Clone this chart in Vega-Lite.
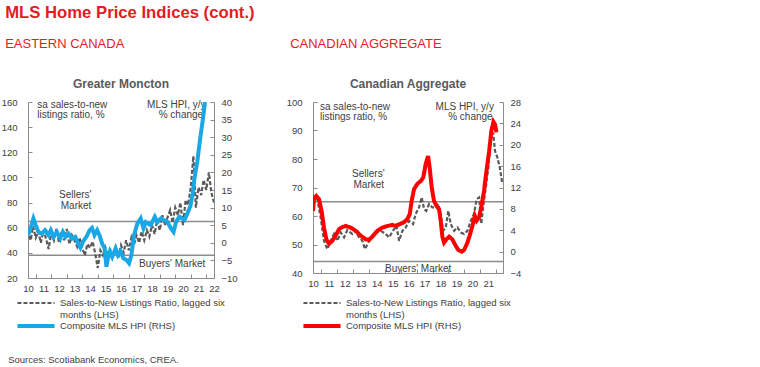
{
"$schema": "https://vega.github.io/schema/vega-lite/v6.json",
"background": "white",
"padding": {"left": 1, "top": 5, "right": 5, "bottom": 4},
"title": {"text": "MLS Home Price Indices (cont.)", "anchor": "start", "fontSize": 16.7, "font": "Liberation Sans", "fontWeight": "bold", "color": "#E31B23", "offset": 16, "dx": 4},
"config": {
  "font": "Liberation Sans",
  "view": {"stroke": null},
  "axis": {"labelFont": "Liberation Sans", "labelFontSize": 9.5, "labelColor": "#404040", "domainColor": "#8c8c8c", "tickColor": "#8c8c8c", "grid": false, "domainWidth": 1, "tickWidth": 1, "labelOverlap": false},
  "legend": {"labelFont": "Liberation Sans"},
  "text": {"fontSize": 10, "color": "#404040", "baseline": "middle", "font": "Liberation Sans"}
},
"datasets": {
  "md": [
    {"t":2010.0,"v":58},{"t":2010.17,"v":50},{"t":2010.33,"v":61},{"t":2010.5,"v":52},{"t":2010.67,"v":57},{"t":2010.83,"v":48},
    {"t":2011.0,"v":58},{"t":2011.17,"v":51},{"t":2011.33,"v":43},{"t":2011.5,"v":56},{"t":2011.67,"v":50},{"t":2011.83,"v":59},
    {"t":2012.0,"v":48},{"t":2012.17,"v":57},{"t":2012.33,"v":50},{"t":2012.5,"v":59},{"t":2012.67,"v":47},{"t":2012.83,"v":54},
    {"t":2013.0,"v":50},{"t":2013.17,"v":45},{"t":2013.33,"v":52},{"t":2013.5,"v":44},{"t":2013.67,"v":38},{"t":2013.83,"v":47},
    {"t":2014.0,"v":44},{"t":2014.17,"v":49},{"t":2014.33,"v":40},{"t":2014.5,"v":28},{"t":2014.67,"v":42},{"t":2014.83,"v":38},
    {"t":2015.0,"v":44},{"t":2015.17,"v":36},{"t":2015.33,"v":42},{"t":2015.5,"v":37},{"t":2015.67,"v":44},{"t":2015.83,"v":36},
    {"t":2016.0,"v":46},{"t":2016.17,"v":40},{"t":2016.33,"v":50},{"t":2016.5,"v":42},{"t":2016.67,"v":52},{"t":2016.83,"v":46},
    {"t":2017.0,"v":54},{"t":2017.17,"v":48},{"t":2017.33,"v":57},{"t":2017.5,"v":50},{"t":2017.67,"v":58},{"t":2017.83,"v":53},
    {"t":2018.0,"v":62},{"t":2018.17,"v":55},{"t":2018.33,"v":66},{"t":2018.5,"v":58},{"t":2018.67,"v":70},{"t":2018.83,"v":62},
    {"t":2019.0,"v":68},{"t":2019.17,"v":74},{"t":2019.33,"v":64},{"t":2019.5,"v":76},{"t":2019.67,"v":70},{"t":2019.83,"v":80},
    {"t":2020.0,"v":62},{"t":2020.17,"v":82},{"t":2020.33,"v":78},{"t":2020.5,"v":92},{"t":2020.67,"v":117},{"t":2020.83,"v":76},
    {"t":2021.0,"v":92},{"t":2021.17,"v":86},{"t":2021.33,"v":98},{"t":2021.5,"v":90},{"t":2021.67,"v":104},{"t":2021.83,"v":88},
    {"t":2022.0,"v":80}
  ],
  "mb": [
    {"t":2010.0,"r":2.2},{"t":2010.19,"r":4.5},{"t":2010.35,"r":6.9},{"t":2010.5,"r":5.0},{"t":2010.67,"r":3.1},{"t":2010.89,"r":2.6},
    {"t":2011.1,"r":3.6},{"t":2011.32,"r":2.2},{"t":2011.47,"r":3.6},{"t":2011.65,"r":1.7},{"t":2011.86,"r":3.1},
    {"t":2012.08,"r":1.2},{"t":2012.25,"r":3.1},{"t":2012.42,"r":1.7},{"t":2012.62,"r":2.6},{"t":2012.84,"r":1.2},
    {"t":2013.05,"r":1.7},{"t":2013.23,"r":-0.2},{"t":2013.38,"r":-1.4},{"t":2013.55,"r":0.3},{"t":2013.77,"r":1.7},{"t":2013.98,"r":3.6},
    {"t":2014.13,"r":4.2},{"t":2014.29,"r":2.2},{"t":2014.46,"r":3.6},{"t":2014.61,"r":2.2},{"t":2014.78,"r":-0.2},{"t":2014.94,"r":-1.6},
    {"t":2015.06,"r":-6.8},{"t":2015.15,"r":-4.4},{"t":2015.28,"r":-2.5},{"t":2015.43,"r":-4.0},{"t":2015.65,"r":-1.6},{"t":2015.8,"r":-3.5},{"t":2015.97,"r":-2.4},
    {"t":2016.15,"r":-4.4},{"t":2016.36,"r":-4.9},{"t":2016.52,"r":-5.8},{"t":2016.67,"r":-3.5},{"t":2016.84,"r":2.2},
    {"t":2017.06,"r":5.5},{"t":2017.27,"r":6.9},{"t":2017.45,"r":4.1},{"t":2017.6,"r":5.9},{"t":2017.92,"r":5.0},
    {"t":2018.18,"r":7.4},{"t":2018.35,"r":5.9},{"t":2018.57,"r":6.9},{"t":2018.79,"r":6.4},
    {"t":2019.0,"r":5.9},{"t":2019.22,"r":4.1},{"t":2019.39,"r":3.1},{"t":2019.55,"r":5.9},{"t":2019.76,"r":7.4},{"t":2019.94,"r":6.9},
    {"t":2020.1,"r":6.5},{"t":2020.3,"r":8.5},{"t":2020.48,"r":10.5},{"t":2020.62,"r":14},{"t":2020.73,"r":18},{"t":2020.92,"r":23},
    {"t":2021.12,"r":30},{"t":2021.28,"r":35},{"t":2021.42,"r":40}
  ],
  "cd": [
    {"t":2010.0,"v":61.8},{"t":2010.06,"v":67},{"t":2010.27,"v":66},{"t":2010.48,"v":59.5},{"t":2010.69,"v":51.3},{"t":2010.9,"v":48.4},
    {"t":2011.11,"v":51.3},{"t":2011.32,"v":53.7},{"t":2011.53,"v":51.3},{"t":2011.74,"v":54.2},{"t":2011.95,"v":52.5},
    {"t":2012.15,"v":55},{"t":2012.47,"v":53.7},{"t":2012.68,"v":54.8},{"t":2012.89,"v":52.5},
    {"t":2013.1,"v":51.3},{"t":2013.26,"v":48.4},{"t":2013.47,"v":50.7},{"t":2013.72,"v":52.5},{"t":2013.97,"v":54.2},
    {"t":2014.25,"v":54.8},{"t":2014.56,"v":53.7},{"t":2014.77,"v":52.5},
    {"t":2015.02,"v":54.8},{"t":2015.23,"v":56.6},{"t":2015.4,"v":51.3},{"t":2015.61,"v":54.8},{"t":2015.82,"v":56},
    {"t":2016.03,"v":58.3},{"t":2016.28,"v":57.2},{"t":2016.44,"v":60.7},{"t":2016.65,"v":63},{"t":2016.82,"v":66.5},{"t":2016.97,"v":62.4},
    {"t":2017.11,"v":61.8},{"t":2017.28,"v":64.2},{"t":2017.49,"v":63},{"t":2017.7,"v":63},{"t":2017.87,"v":64.2},
    {"t":2018.01,"v":60.7},{"t":2018.16,"v":54.8},{"t":2018.33,"v":56},{"t":2018.49,"v":61.8},{"t":2018.64,"v":57.2},{"t":2018.85,"v":54.8},
    {"t":2019.06,"v":56},{"t":2019.27,"v":54.2},{"t":2019.48,"v":53.7},{"t":2019.69,"v":54.8},{"t":2019.9,"v":58.3},
    {"t":2020.1,"v":60.7},{"t":2020.27,"v":65.9},{"t":2020.42,"v":66.5},{"t":2020.56,"v":57.2},{"t":2020.67,"v":63},{"t":2020.84,"v":70},
    {"t":2021.0,"v":77},{"t":2021.15,"v":86.9},{"t":2021.3,"v":89.3},{"t":2021.42,"v":82.8},{"t":2021.57,"v":80.5},{"t":2021.72,"v":77},{"t":2021.88,"v":71.2}
  ],
  "cr": [
    {"t":2010.0,"r":7.6},{"t":2010.06,"r":9.8},{"t":2010.21,"r":10.4},{"t":2010.38,"r":9.8},{"t":2010.54,"r":7.6},{"t":2010.69,"r":4.5},{"t":2010.84,"r":2.3},
    {"t":2011.0,"r":1.5},{"t":2011.21,"r":2.0},{"t":2011.42,"r":3.0},{"t":2011.63,"r":4.2},{"t":2011.84,"r":4.6},
    {"t":2012.05,"r":4.8},{"t":2012.36,"r":4.5},{"t":2012.68,"r":3.9},{"t":2012.99,"r":3.0},
    {"t":2013.31,"r":2.3},{"t":2013.51,"r":2.2},{"t":2013.72,"r":2.8},
    {"t":2014.04,"r":3.9},{"t":2014.35,"r":4.5},{"t":2014.67,"r":4.8},{"t":2014.98,"r":5.0},
    {"t":2015.19,"r":4.8},{"t":2015.4,"r":5.1},{"t":2015.71,"r":5.5},{"t":2015.92,"r":6.1},
    {"t":2016.07,"r":7.0},{"t":2016.19,"r":9.5},{"t":2016.34,"r":11.7},{"t":2016.55,"r":12.7},{"t":2016.76,"r":13.2},{"t":2016.92,"r":13.9},
    {"t":2017.07,"r":16.4},{"t":2017.22,"r":17.9},{"t":2017.32,"r":15.7},{"t":2017.45,"r":12.0},{"t":2017.59,"r":9.5},{"t":2017.74,"r":8.6},{"t":2017.91,"r":7.9},
    {"t":2018.01,"r":5.8},{"t":2018.12,"r":2.7},{"t":2018.22,"r":1.7},{"t":2018.37,"r":2.3},{"t":2018.54,"r":2.8},{"t":2018.74,"r":2.3},{"t":2018.95,"r":1.1},
    {"t":2019.12,"r":0.3},{"t":2019.33,"r":0.0},{"t":2019.48,"r":0.3},{"t":2019.69,"r":1.7},{"t":2019.83,"r":3.0},
    {"t":2020.0,"r":4.8},{"t":2020.15,"r":6.7},{"t":2020.27,"r":5.8},{"t":2020.42,"r":6.4},{"t":2020.59,"r":8.9},{"t":2020.73,"r":11.4},{"t":2020.88,"r":15.1},
    {"t":2021.05,"r":18.8},{"t":2021.19,"r":22.6},{"t":2021.32,"r":24.3},{"t":2021.42,"r":23.8},{"t":2021.51,"r":22.3}
  ]
},
"vconcat": [
 {
  "title": {"text": "Sources: Scotiabank Economics, CREA.", "orient": "bottom", "anchor": "start", "fontSize": 9.5, "fontWeight": "normal", "color": "#404040", "offset": 21, "dx": 7},
  "spacing": 48,
  "resolve": {"scale": {"color": "independent", "strokeDash": "independent", "strokeWidth": "independent"}, "legend": {"color": "independent", "strokeDash": "independent", "strokeWidth": "independent"}},
  "hconcat": [
   {
    "title": {"text": "EASTERN CANADA", "anchor": "start", "fontSize": 13, "fontWeight": "normal", "color": "#E31B23", "offset": 27, "dx": 4},
    "vconcat": [
     {
      "title": {"text": "Greater Moncton", "fontSize": 12, "fontWeight": "bold", "color": "#595959", "offset": 6},
      "width": 186, "height": 176,
      "resolve": {"scale": {"x": "independent", "y": "independent"}},
      "layer": [
       {"data": {"values": [{"v": 65}, {"v": 38}]},
        "mark": {"type": "rule", "color": "#8c8c8c", "strokeWidth": 1.5},
        "encoding": {"y": {"field": "v", "type": "quantitative", "axis": null, "scale": {"domain": [20, 160], "nice": false, "zero": false}}}},
       {"data": {"name": "md"},
        "mark": {"type": "line", "clip": true},
        "encoding": {
          "x": {"field": "t", "type": "quantitative", "title": null, "scale": {"domain": [2010, 2022], "nice": false, "zero": false},
                "axis": {"values": [2010,2010.5,2011,2011.5,2012,2012.5,2013,2013.5,2014,2014.5,2015,2015.5,2016,2016.5,2017,2017.5,2018,2018.5,2019,2019.5,2020,2020.5,2021,2021.5,2022],
                         "labelExpr": "datum.value % 1 == 0 ? slice(toString(datum.value), 2) : ''",
                         "tickOpacity": {"condition": {"test": "datum.value % 1 != 0", "value": 1}, "value": 0},
                         "tickSize": -4, "labelPadding": 9, "labelOverlap": false, "labelFlush": false, "labelBound": false}},
          "y": {"field": "v", "type": "quantitative", "title": null, "scale": {"domain": [20, 160], "nice": false, "zero": false},
                "axis": {"values": [20,40,60,80,100,120,140,160], "tickSize": -4, "labelPadding": 15, "labelOverlap": false}},
          "color": {"datum": "Sales-to-New Listings Ratio, lagged six months (LHS)", "type": "nominal",
                    "scale": {"domain": ["Sales-to-New Listings Ratio, lagged six months (LHS)", "Composite MLS HPI (RHS)"], "range": ["#5a5a5a", "#1AA7E6"]},
                    "legend": {"title": null, "orient": "none", "legendX": 1, "legendY": 195, "symbolType": "M-4,0H4", "symbolSize": 86, "labelFontSize": 9.5, "labelColor": "#404040", "labelOffset": 17, "labelLimit": 300, "rowPadding": -4, "padding": 0,
                               "labelExpr": "indexof(datum.label, 'lagged') > 0 ? ['Sales-to-New Listings Ratio, lagged six', 'months (LHS)'] : datum.label"}},
          "strokeDash": {"datum": "Sales-to-New Listings Ratio, lagged six months (LHS)", "type": "nominal",
                    "scale": {"domain": ["Sales-to-New Listings Ratio, lagged six months (LHS)", "Composite MLS HPI (RHS)"], "range": [[4, 2], [1, 0]]},
                    "legend": {"title": null, "orient": "none", "legendX": 1, "legendY": 195}},
          "strokeWidth": {"datum": "Sales-to-New Listings Ratio, lagged six months (LHS)", "type": "ordinal",
                    "scale": {"domain": ["Sales-to-New Listings Ratio, lagged six months (LHS)", "Composite MLS HPI (RHS)"], "range": [2.2, 4]},
                    "legend": {"title": null, "orient": "none", "legendX": 1, "legendY": 195}}
        }},
       {"data": {"values": [{"t": 2010.6, "v": 157.5, "txt": "sa sales-to-new"}, {"t": 2010.6, "v": 149.5, "txt": "listings ratio, %"}]},
        "mark": {"type": "text", "align": "left"},
        "encoding": {"x": {"field": "t", "type": "quantitative", "axis": null, "scale": {"domain": [2010, 2022], "nice": false, "zero": false}},
                     "y": {"field": "v", "type": "quantitative", "axis": null, "scale": {"domain": [20, 160], "nice": false, "zero": false}}, "text": {"field": "txt"}}},
       {"data": {"values": [{"t": 2021.45, "v": 157.5, "txt": "MLS HPI, y/y"}, {"t": 2021.3, "v": 149.5, "txt": "% change"}]},
        "mark": {"type": "text", "align": "right"},
        "encoding": {"x": {"field": "t", "type": "quantitative", "axis": null, "scale": {"domain": [2010, 2022], "nice": false, "zero": false}},
                     "y": {"field": "v", "type": "quantitative", "axis": null, "scale": {"domain": [20, 160], "nice": false, "zero": false}}, "text": {"field": "txt"}}},
       {"data": {"values": [{"t": 2013.05, "v": 86, "txt": "Sellers'"}, {"t": 2013.1, "v": 77.6, "txt": "Market"}, {"t": 2019.3, "v": 31, "txt": "Buyers' Market"}]},
        "mark": {"type": "text", "align": "center"},
        "encoding": {"x": {"field": "t", "type": "quantitative", "axis": null, "scale": {"domain": [2010, 2022], "nice": false, "zero": false}},
                     "y": {"field": "v", "type": "quantitative", "axis": null, "scale": {"domain": [20, 160], "nice": false, "zero": false}}, "text": {"field": "txt"}}},
       {"data": {"name": "mb"},
        "mark": {"type": "line", "clip": true},
        "encoding": {
          "x": {"field": "t", "type": "quantitative", "axis": null, "scale": {"domain": [2010, 2022], "nice": false, "zero": false}},
          "y": {"field": "r", "type": "quantitative", "title": null, "scale": {"domain": [-10, 40], "nice": false, "zero": false},
                "axis": {"orient": "right", "values": [-10,-5,0,5,10,15,20,25,30,35,40], "tickSize": -4, "labelPadding": 11, "labelOverlap": false}},
          "color": {"datum": "Composite MLS HPI (RHS)", "type": "nominal"},
          "strokeDash": {"datum": "Composite MLS HPI (RHS)", "type": "nominal"},
          "strokeWidth": {"datum": "Composite MLS HPI (RHS)", "type": "ordinal"}
        }}
      ]
     }
    ]
   },
   {
    "title": {"text": "CANADIAN AGGREGATE", "anchor": "start", "fontSize": 13, "fontWeight": "normal", "color": "#E31B23", "offset": 27, "dx": 4},
    "vconcat": [
     {
      "title": {"text": "Canadian Aggregate", "fontSize": 12, "fontWeight": "bold", "color": "#595959", "offset": 6},
      "width": 190, "height": 171,
      "resolve": {"scale": {"x": "independent", "y": "independent"}},
      "layer": [
       {"data": {"values": [{"v": 65}, {"v": 44}]},
        "mark": {"type": "rule", "color": "#8c8c8c", "strokeWidth": 1.5},
        "encoding": {"y": {"field": "v", "type": "quantitative", "axis": null, "scale": {"domain": [40, 100], "nice": false, "zero": false}}}},
       {"data": {"name": "cd"},
        "mark": {"type": "line", "clip": true},
        "encoding": {
          "x": {"field": "t", "type": "quantitative", "title": null, "scale": {"domain": [2010, 2021.92], "nice": false, "zero": false},
                "axis": {"values": [2010,2010.5,2011,2011.5,2012,2012.5,2013,2013.5,2014,2014.5,2015,2015.5,2016,2016.5,2017,2017.5,2018,2018.5,2019,2019.5,2020,2020.5,2021,2021.5],
                         "labelExpr": "datum.value % 1 == 0 ? slice(toString(datum.value), 2) : ''",
                         "tickOpacity": {"condition": {"test": "datum.value % 1 != 0", "value": 1}, "value": 0},
                         "tickSize": -4, "labelPadding": 9, "labelOverlap": false, "labelFlush": false, "labelBound": false}},
          "y": {"field": "v", "type": "quantitative", "title": null, "scale": {"domain": [40, 100], "nice": false, "zero": false},
                "axis": {"values": [40,50,60,70,80,90,100], "tickSize": -4, "labelPadding": 15, "labelOverlap": false}},
          "color": {"datum": "Sales-to-New Listings Ratio, lagged six months (LHS)", "type": "nominal",
                    "scale": {"domain": ["Sales-to-New Listings Ratio, lagged six months (LHS)", "Composite MLS HPI (RHS)"], "range": ["#5a5a5a", "#FF0000"]},
                    "legend": {"title": null, "orient": "none", "legendX": 2, "legendY": 195, "symbolType": "M-4,0H4", "symbolSize": 86, "labelFontSize": 9.5, "labelColor": "#404040", "labelOffset": 17, "labelLimit": 300, "rowPadding": -4, "padding": 0,
                               "labelExpr": "indexof(datum.label, 'lagged') > 0 ? ['Sales-to-New Listings Ratio, lagged six', 'months (LHS)'] : datum.label"}},
          "strokeDash": {"datum": "Sales-to-New Listings Ratio, lagged six months (LHS)", "type": "nominal",
                    "scale": {"domain": ["Sales-to-New Listings Ratio, lagged six months (LHS)", "Composite MLS HPI (RHS)"], "range": [[4, 2], [1, 0]]},
                    "legend": {"title": null, "orient": "none", "legendX": 2, "legendY": 195}},
          "strokeWidth": {"datum": "Sales-to-New Listings Ratio, lagged six months (LHS)", "type": "ordinal",
                    "scale": {"domain": ["Sales-to-New Listings Ratio, lagged six months (LHS)", "Composite MLS HPI (RHS)"], "range": [2.2, 4]},
                    "legend": {"title": null, "orient": "none", "legendX": 2, "legendY": 195}}
        }},
       {"data": {"values": [{"t": 2010.44, "v": 98.2, "txt": "sa sales-to-new"}, {"t": 2010.44, "v": 94.9, "txt": "listings ratio, %"}]},
        "mark": {"type": "text", "align": "left"},
        "encoding": {"x": {"field": "t", "type": "quantitative", "axis": null, "scale": {"domain": [2010, 2021.92], "nice": false, "zero": false}},
                     "y": {"field": "v", "type": "quantitative", "axis": null, "scale": {"domain": [40, 100], "nice": false, "zero": false}}, "text": {"field": "txt"}}},
       {"data": {"values": [{"t": 2021.35, "v": 98.2, "txt": "MLS HPI, y/y"}, {"t": 2021.27, "v": 94.9, "txt": "% change"}]},
        "mark": {"type": "text", "align": "right"},
        "encoding": {"x": {"field": "t", "type": "quantitative", "axis": null, "scale": {"domain": [2010, 2021.92], "nice": false, "zero": false}},
                     "y": {"field": "v", "type": "quantitative", "axis": null, "scale": {"domain": [40, 100], "nice": false, "zero": false}}, "text": {"field": "txt"}}},
       {"data": {"values": [{"t": 2013.47, "v": 74.6, "txt": "Sellers'"}, {"t": 2013.5, "v": 70.8, "txt": "Market"}, {"t": 2016.6, "v": 41.5, "txt": "Buyers' Market"}]},
        "mark": {"type": "text", "align": "center"},
        "encoding": {"x": {"field": "t", "type": "quantitative", "axis": null, "scale": {"domain": [2010, 2021.92], "nice": false, "zero": false}},
                     "y": {"field": "v", "type": "quantitative", "axis": null, "scale": {"domain": [40, 100], "nice": false, "zero": false}}, "text": {"field": "txt"}}},
       {"data": {"name": "cr"},
        "mark": {"type": "line", "clip": true},
        "encoding": {
          "x": {"field": "t", "type": "quantitative", "axis": null, "scale": {"domain": [2010, 2021.92], "nice": false, "zero": false}},
          "y": {"field": "r", "type": "quantitative", "title": null, "scale": {"domain": [-4, 28], "nice": false, "zero": false},
                "axis": {"orient": "right", "values": [-4,0,4,8,12,16,20,24,28], "tickSize": -4, "labelPadding": 11, "labelOverlap": false}},
          "color": {"datum": "Composite MLS HPI (RHS)", "type": "nominal"},
          "strokeDash": {"datum": "Composite MLS HPI (RHS)", "type": "nominal"},
          "strokeWidth": {"datum": "Composite MLS HPI (RHS)", "type": "ordinal"}
        }}
      ]
     }
    ]
   }
  ]
 }
]
}
